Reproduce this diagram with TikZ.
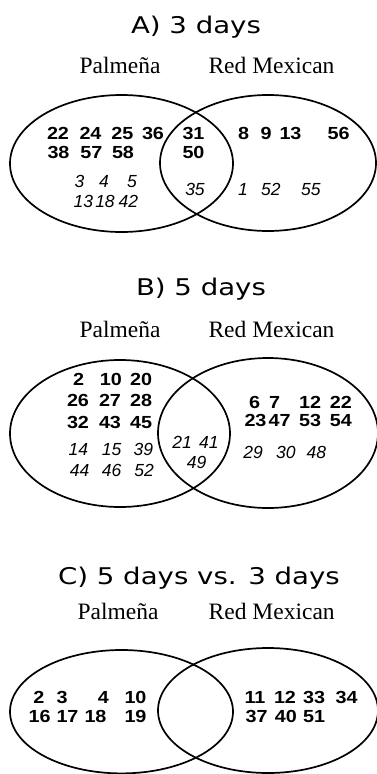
\documentclass[tikz,border=0pt]{standalone}
\usepackage{fontspec}
\newfontfamily\titlefont[FakeStretch=1.2]{DejaVu Sans}
\newfontfamily\labfont{Liberation Serif}
\newfontfamily\numfont{Liberation Sans}
\newfontfamily\bnumfont[FakeStretch=1.13]{Liberation Sans}
\tikzset{
  venn/.style={line width=1.7pt},
  ttl/.style={font=\titlefont\fontsize{23}{27}\selectfont, anchor=base, inner sep=0pt},
  lab/.style={font=\labfont\fontsize{23.5}{27}\selectfont, anchor=base, inner sep=0pt},
  bnum/.style={font=\bnumfont\bfseries\fontsize{17.5}{21}\selectfont, anchor=base, inner sep=0pt},
  inum/.style={font=\numfont\itshape\fontsize{17.5}{21}\selectfont, anchor=base, inner sep=0pt},
}
\newcommand\mybn[4]{\node[bnum] (#1) at (#2,#3) {#4};}
\newcommand\myin[4]{\node[inum] (#1) at (#2,#3) {#4};}
\begin{document}
\begin{tikzpicture}[x=1pt,y=-1pt]
\fill[white] (0,0) rectangle (377,774);
\useasboundingbox (0,0) rectangle (377,774);
% ---------------- Panel A
\node[ttl] (tA) at (196,33.5) {A) 3 days};
\node[lab] (pA) at (120,73) {Palmeña};
\node[lab] (rA) at (271.5,73) {Red Mexican};
\draw[venn] (121.5,163.5) ellipse [x radius=111.5pt, y radius=68.5pt];
\draw[venn] (268,163) ellipse [x radius=108pt, y radius=68pt];
\mybn{a1}{58}{139.5}{22}
\mybn{a2}{90.5}{139.5}{24}
\mybn{a3}{122.3}{139.5}{25}
\mybn{a4}{153}{139.5}{36}
\mybn{a5}{193.5}{139.5}{31}
\mybn{a6}{243.5}{139.5}{8}
\mybn{a7}{266}{139.5}{9}
\mybn{a8}{290.5}{139.5}{13}
\mybn{a9}{338.5}{139.5}{56}
\mybn{a10}{58.5}{158.5}{38}
\mybn{a11}{91.3}{158.5}{57}
\mybn{a12}{123}{158.5}{58}
\mybn{a13}{193.5}{158.5}{50}
\myin{a14}{79.5}{187}{3}
\myin{a15}{104}{187}{4}
\myin{a16}{132}{187}{5}
\myin{a17}{83.3}{207}{13}
\myin{a18}{105}{207}{18}
\myin{a19}{128.3}{207}{42}
\myin{a20}{195}{195}{35}
\myin{a21}{243}{195}{1}
\myin{a22}{270.8}{195}{52}
\myin{a23}{310.8}{195}{55}
% ---------------- Panel B
\node[ttl] (tB) at (201,295) {B) 5 days};
\node[lab] (pB) at (120,337) {Palmeña};
\node[lab] (rB) at (271.5,337) {Red Mexican};
\draw[venn] (120,433.5) ellipse [x radius=110pt, y radius=73.5pt];
\draw[venn] (268,433) ellipse [x radius=110pt, y radius=75pt];
\mybn{b1}{78.5}{385}{2}
\mybn{b2}{110.8}{385}{10}
\mybn{b3}{141.2}{385}{20}
\mybn{b4}{78}{406.7}{26}
\mybn{b5}{110}{406.7}{27}
\mybn{b6}{141.2}{406.7}{28}
\mybn{b7}{78}{428.3}{32}
\mybn{b8}{110}{428.3}{43}
\mybn{b9}{141.2}{428.3}{45}
\myin{b10}{78.3}{455.7}{14}
\myin{b11}{111.7}{455.7}{15}
\myin{b12}{143.3}{455.7}{39}
\myin{b13}{79.6}{476.7}{44}
\myin{b14}{111.7}{476.7}{46}
\myin{b15}{144.2}{476.7}{52}
\myin{b16}{182.2}{448.3}{21}
\myin{b17}{208.8}{448.3}{41}
\myin{b18}{196.7}{468.3}{49}
\mybn{b19}{254.7}{408}{6}
\mybn{b20}{274.7}{408}{7}
\mybn{b21}{310}{408}{12}
\mybn{b22}{340.8}{408}{22}
\mybn{b23}{255.5}{426.7}{23}
\mybn{b24}{279.7}{426.7}{47}
\mybn{b25}{310}{426.7}{53}
\mybn{b26}{340.8}{426.7}{54}
\myin{b27}{253}{458}{29}
\myin{b28}{285.8}{458}{30}
\myin{b29}{316.3}{458}{48}
% ---------------- Panel C
\node[ttl] (tC) at (199,584) {C) 5 days vs. 3 days};
\node[lab] (pC) at (118,619) {Palmeña};
\node[lab] (rC) at (271.7,619) {Red Mexican};
\draw[venn] (121.5,711.7) ellipse [x radius=111.5pt, y radius=61.7pt];
\draw[venn] (268,710.5) ellipse [x radius=110pt, y radius=62.5pt];
\mybn{c1}{38.8}{703.3}{2}
\mybn{c2}{62.2}{703.3}{3}
\mybn{c3}{103.3}{703.3}{4}
\mybn{c4}{135.5}{703.3}{10}
\mybn{c5}{39.7}{722.7}{16}
\mybn{c6}{67.5}{722.7}{17}
\mybn{c7}{95.5}{722.7}{18}
\mybn{c8}{135.5}{722.7}{19}
\mybn{c9}{255}{703.3}{11}
\mybn{c10}{285}{703.3}{12}
\mybn{c11}{314.2}{703.3}{33}
\mybn{c12}{346.7}{703.3}{34}
\mybn{c13}{256.7}{722.7}{37}
\mybn{c14}{285.8}{722.7}{40}
\mybn{c15}{314.2}{722.7}{51}
\end{tikzpicture}
\end{document}
